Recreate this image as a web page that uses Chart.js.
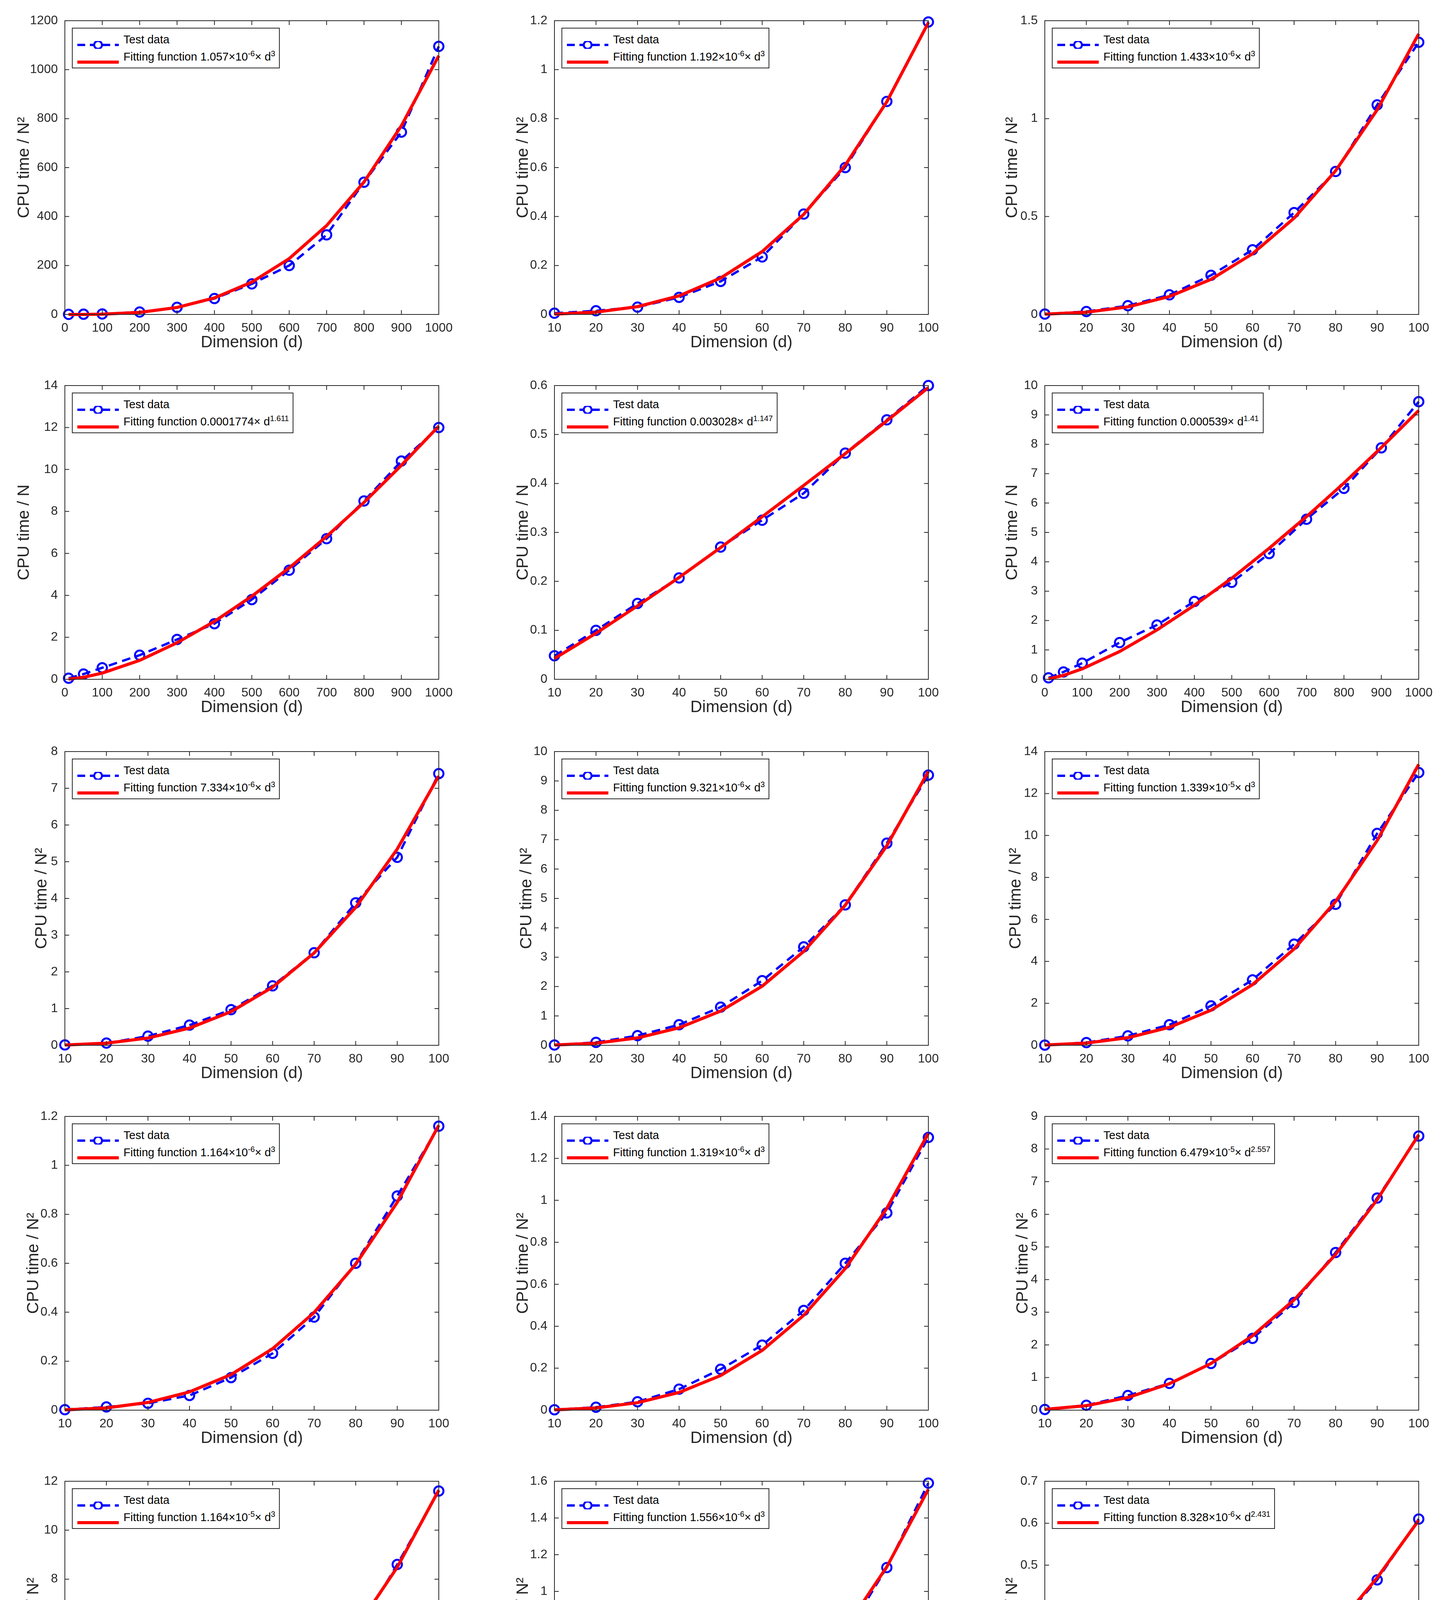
<!DOCTYPE html>
<html><head><meta charset="utf-8">
<script src="https://cdn.jsdelivr.net/npm/chart.js@4/dist/chart.umd.min.js"></script>
<style>
body{margin:0;background:#fff;width:3688px;height:4643px;position:relative;overflow:hidden;font-family:"Liberation Sans Narrow","Liberation Sans",Arial,sans-serif}
canvas{position:absolute}
.lg{position:absolute;border:2px solid #262626;background:#fff;font-size:29px;color:#000;padding:6px 10px 6px 10px;line-height:44px;white-space:nowrap}
.lg .s{display:inline-block;width:110px;height:20px;vertical-align:middle;position:relative;margin-right:10px}
.lg sup{font-size:20px;line-height:0}
</style></head><body>
<script>
const xBig=[10,50,100,200,300,400,500,600,700,800,900,1000];
const xSmall=[10,20,30,40,50,60,70,80,90,100];
const test1=[0.5,1,2,10,29,65,125,200,325,540,745,1095];
const fit1=[0.001,0.13,1.06,8.46,28.5,67.6,132,228,363,541,771,1057];
const test2=[0.005,0.015,0.03,0.07,0.135,0.235,0.41,0.60,0.87,1.195];
const fit2=[0.0012,0.0095,0.032,0.076,0.149,0.257,0.409,0.610,0.869,1.192];
const test3=[0.002,0.015,0.045,0.10,0.20,0.33,0.52,0.73,1.07,1.39];
const fit3=[0.0014,0.0115,0.0387,0.0917,0.179,0.310,0.492,0.734,1.045,1.433];
const test4=[0.05,0.25,0.55,1.15,1.9,2.65,3.8,5.2,6.7,8.5,10.4,12.0];
const fit4=[0.0072,0.097,0.296,0.90,1.74,2.76,3.96,5.31,6.81,8.43,10.2,12.07];
const test5=[0.048,0.10,0.155,0.207,0.27,0.325,0.38,0.462,0.53,0.60];
const fit5=[0.0425,0.094,0.150,0.208,0.269,0.332,0.396,0.461,0.528,0.596];
const test6=[0.05,0.25,0.55,1.25,1.85,2.65,3.3,4.28,5.45,6.5,7.88,9.45];
const fit6=[0.0139,0.134,0.355,0.946,1.68,2.52,3.44,4.46,5.54,6.68,7.89,9.15];
const test7=[0.01,0.06,0.25,0.55,0.97,1.62,2.52,3.88,5.12,7.4];
const fit7=[0.0073,0.0587,0.198,0.469,0.917,1.584,2.516,3.755,5.346,7.334];
const test8=[0.01,0.1,0.33,0.7,1.3,2.2,3.35,4.78,6.88,9.2];
const fit8=[0.0093,0.0746,0.252,0.597,1.165,2.013,3.197,4.772,6.795,9.321];
const test9=[0.01,0.13,0.45,0.98,1.88,3.12,4.82,6.72,10.1,13.0];
const fit9=[0.0134,0.107,0.362,0.857,1.674,2.892,4.593,6.856,9.761,13.39];
const test10=[0.002,0.013,0.028,0.06,0.133,0.232,0.38,0.60,0.875,1.16];
const fit10=[0.0012,0.0093,0.0314,0.0745,0.1455,0.251,0.399,0.596,0.849,1.164];
const test11=[0.002,0.014,0.04,0.10,0.195,0.31,0.475,0.70,0.94,1.30];
const fit11=[0.0013,0.0106,0.0356,0.0844,0.165,0.285,0.452,0.675,0.962,1.319];
const test12=[0.02,0.15,0.45,0.82,1.43,2.2,3.3,4.83,6.5,8.4];
const fit12=[0.0234,0.137,0.388,0.81,1.43,2.28,3.38,4.77,6.45,8.44];
const test13=[0.01,0.15,0.42,0.85,1.55,2.55,4.0,5.75,8.6,11.6];
const fit13=[0.0116,0.093,0.314,0.745,1.455,2.514,3.993,5.960,8.486,11.64];
const test14=[0.002,0.013,0.035,0.095,0.195,0.315,0.495,0.76,1.13,1.59];
const fit14=[0.0016,0.0124,0.042,0.0996,0.1945,0.336,0.534,0.797,1.134,1.556];
const test15=[0.004,0.014,0.033,0.07,0.115,0.175,0.255,0.35,0.465,0.61];
const fit15=[0.00225,0.0121,0.0325,0.0653,0.112,0.175,0.254,0.352,0.470,0.607];
const yMax=[1200,1.2,1.5,14,0.6,10,8,10,14,1.2,1.4,9,12,1.6,0.7];
const yStep=[200,0.2,0.5,2,0.1,1,1,1,2,0.2,0.2,1,2,0.2,0.1];
const yTitles=["CPU time / N²","CPU time / N²","CPU time / N²","CPU time / N","CPU time / N","CPU time / N",
 "CPU time / N²","CPU time / N²","CPU time / N²","CPU time / N²","CPU time / N²","CPU time / N²","CPU time / N²","CPU time / N²","CPU time / N²"];
const fitLabels=["1.057×10<sup>-6</sup>× d<sup>3</sup>","1.192×10<sup>-6</sup>× d<sup>3</sup>","1.433×10<sup>-6</sup>× d<sup>3</sup>",
 "0.0001774× d<sup>1.611</sup>","0.003028× d<sup>1.147</sup>","0.000539× d<sup>1.41</sup>",
 "7.334×10<sup>-6</sup>× d<sup>3</sup>","9.321×10<sup>-6</sup>× d<sup>3</sup>","1.339×10<sup>-5</sup>× d<sup>3</sup>",
 "1.164×10<sup>-6</sup>× d<sup>3</sup>","1.319×10<sup>-6</sup>× d<sup>3</sup>","6.479×10<sup>-5</sup>× d<sup>2.557</sup>",
 "1.164×10<sup>-5</sup>× d<sup>3</sup>","1.556×10<sup>-6</sup>× d<sup>3</sup>","8.328×10<sup>-6</sup>× d<sup>2.431</sup>"];
const tests=[test1,test2,test3,test4,test5,test6,test7,test8,test9,test10,test11,test12,test13,test14,test15];
const fits=[fit1,fit2,fit3,fit4,fit5,fit6,fit7,fit8,fit9,fit10,fit11,fit12,fit13,fit14,fit15];
const bigX=[true,false,false,true,false,true,false,false,false,false,false,false,false,false,false];
const titleGap=[36,28,29,36,28,29,21,25,26,28,28,20,28,28,29];

const colL=[166,1419,2674], plotW=957, rowT=[53,987,1924,2858,3792], plotH=752;
const S=2.974, PT=30, PR=50, XH=98;
const boxPlugin={id:'box',afterDraw(c){
  const a=c.chartArea,ctx=c.ctx;ctx.save();ctx.strokeStyle='#262626';ctx.lineWidth=2;
  ctx.strokeRect(a.left,a.top,a.right-a.left,a.bottom-a.top);
  const L=11;
  c.scales.x.ticks.forEach(t=>{const p=c.scales.x.getPixelForValue(t.value);
    ctx.beginPath();ctx.moveTo(p,a.bottom);ctx.lineTo(p,a.bottom-L);ctx.moveTo(p,a.top);ctx.lineTo(p,a.top+L);ctx.stroke();});
  c.scales.y.ticks.forEach(t=>{const p=c.scales.y.getPixelForValue(t.value);
    ctx.beginPath();ctx.moveTo(a.left,p);ctx.lineTo(a.left+L,p);ctx.moveTo(a.right,p);ctx.lineTo(a.right-L,p);ctx.stroke();});
  ctx.restore();}};
const fmt=v=>String(+(+v).toFixed(4));
const FF='"Liberation Sans Narrow","Liberation Sans",Arial,sans-serif';
for(let i=0;i<15;i++){
  const col=i%3,row=Math.floor(i/3);
  const yw=Math.round(titleGap[i]*S+22);
  const cv=document.createElement('canvas');
  const W=yw+plotW+PR,H=PT+plotH+XH;
  cv.width=W;cv.height=H;cv.style.left=(colL[col]-yw)+'px';cv.style.top=(rowT[row]-PT)+'px';
  cv.style.width=W+'px';cv.style.height=H+'px';
  document.body.appendChild(cv);
  const xs=bigX[i]?xBig:xSmall;
  const tst=tests[i].map((v,k)=>({x:xs[k],y:v})), ft=fits[i].map((v,k)=>({x:xs[k],y:v}));
  new Chart(cv,{type:'line',data:{datasets:[
    {data:ft,borderColor:'#ff0000',borderWidth:8,pointRadius:0,tension:0,order:1},
    {data:tst,borderColor:'#0000ff',borderWidth:6,borderDash:[22,14],pointRadius:12,pointBorderWidth:5,pointBorderColor:'#0000ff',pointBackgroundColor:'rgba(0,0,0,0)',tension:0,order:2}
  ]},options:{responsive:false,animation:false,devicePixelRatio:1,clip:false,
    layout:{padding:{top:PT,right:PR,left:0,bottom:0}},
    plugins:{legend:{display:false},tooltip:{enabled:false}},
    scales:{
      x:{type:'linear',min:bigX[i]?0:10,max:bigX[i]?1000:100,
        afterBuildTicks:s=>{const t=[];if(bigX[i]){for(let v=0;v<=1000;v+=100)t.push({value:v});}else{for(let v=10;v<=100;v+=10)t.push({value:v});}s.ticks=t;},
        afterFit:s=>{s.height=XH;},
        grid:{display:false},border:{display:false},
        ticks:{color:'#262626',font:{size:32,family:FF},padding:8,maxRotation:0,callback:fmt},
        title:{display:true,text:'Dimension (d)',color:'#262626',font:{size:42,family:'"Liberation Sans",Arial,sans-serif'},padding:0}},
      y:{type:'linear',min:0,max:yMax[i],
        afterBuildTicks:s=>{const t=[];const n=Math.round(yMax[i]/yStep[i]);for(let k=0;k<=n;k++)t.push({value:+(k*yStep[i]).toFixed(4)});s.ticks=t;},
        afterFit:s=>{s.width=yw;},
        grid:{display:false},border:{display:false},
        ticks:{color:'#262626',font:{size:32,family:FF},padding:10,callback:fmt},
        title:{display:true,text:yTitles[i],color:'#262626',font:{size:42,family:'"Liberation Sans",Arial,sans-serif'},padding:0}}
    }},plugins:[boxPlugin]});
  const lg=document.createElement('div');lg.className='lg';
  lg.style.left=(colL[col]+18)+'px';lg.style.top=(rowT[row]+18)+'px';
  lg.innerHTML='<div><span class="s"><svg width="110" height="20"><line x1="2" y1="10" x2="108" y2="10" stroke="#0000ff" stroke-width="6" stroke-dasharray="20,12"/><circle cx="55" cy="10" r="10" fill="#fff" stroke="#0000ff" stroke-width="5"/></svg></span>Test data</div>'+
   '<div><span class="s"><svg width="110" height="20"><line x1="2" y1="10" x2="108" y2="10" stroke="#ff0000" stroke-width="8"/></svg></span>Fitting function '+fitLabels[i]+'</div>';
  document.body.appendChild(lg);
}
</script></body></html>
